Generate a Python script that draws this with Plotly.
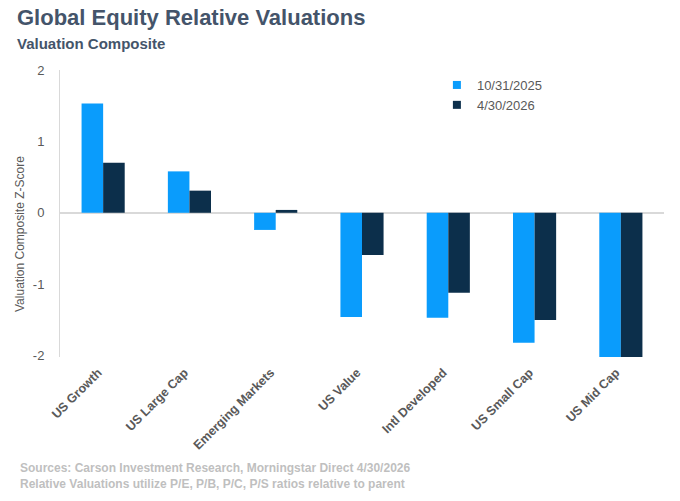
import plotly.graph_objects as go

categories = ["US Growth", "US Large Cap", "Emerging Markets", "US Value",
              "Intl Developed", "US Small Cap", "US Mid Cap"]
series_names = ["10/31/2025", "4/30/2026"]
values_oct2025 = [1.53, 0.58, -0.24, -1.46, -1.47, -1.82, -2.02]
values_apr2026 = [0.70, 0.31, 0.04, -0.59, -1.12, -1.50, -2.02]
y_ticks = [-2, -1, 0, 1, 2]
colors = ["#0A9CFC", "#0C2F4B"]

FONT = "Liberation Sans, Arial, sans-serif"
GRAY = "#595959"

fig = go.Figure()
for name, vals, c in zip(series_names, [values_oct2025, values_apr2026], colors):
    fig.add_trace(go.Bar(x=categories, y=vals, name=name, showlegend=False,
                         marker=dict(color=c, line=dict(width=0))))
# legend proxies with small square markers
for name, c in zip(series_names, colors):
    fig.add_trace(go.Scatter(x=[None], y=[None], mode="markers", name=name,
                             marker=dict(symbol="square", size=8, color=c)))

fig.update_layout(
    width=680, height=501,
    paper_bgcolor="white", plot_bgcolor="white",
    margin=dict(l=60, r=16, t=70, b=144),
    barmode="group", bargap=0.5, bargroupgap=0,
    font=dict(family=FONT, color=GRAY, size=13),
    showlegend=True,
    legend=dict(x=0.624, y=1.0, xanchor="left", yanchor="top",
                font=dict(size=13, color=GRAY), bgcolor="rgba(0,0,0,0)",
                itemwidth=30, tracegroupgap=2),
    xaxis=dict(tickangle=-45, tickfont=dict(size=12.5, color=GRAY, family=FONT, weight="bold"),
               showline=False, showgrid=False, ticks="",
               ticklabelstandoff=5, ticklabelshift=-5),
    yaxis=dict(range=[-2.02, 2.0], tickvals=y_ticks, ticktext=[str(v) for v in y_ticks],
               showgrid=False, zeroline=True, zerolinecolor="#D9D9D9", zerolinewidth=1.5,
               showline=True, linecolor="#D9D9D9", linewidth=1, ticks="",
               tickfont=dict(size=13, color=GRAY), ticklabelstandoff=12),
)

fig.add_annotation(text="Valuation Composite Z-Score", xref="paper", yref="paper",
                   x=-(60 - 20) / 604, y=(357 - 234) / 287, xanchor="center", yanchor="middle",
                   textangle=-90, showarrow=False, font=dict(size=12, color=GRAY, family=FONT))
fig.add_annotation(text="<b>Global Equity Relative Valuations</b>", xref="paper", yref="paper",
                   x=-0.075, y=1 + (70 - 18) / 287, xanchor="left", yanchor="middle",
                   showarrow=False, font=dict(size=22, color="#44546A", family=FONT))
fig.add_annotation(text="<b>Valuation Composite</b>", xref="paper", yref="paper",
                   x=-0.075, y=1 + (70 - 43) / 287, xanchor="left", yanchor="middle",
                   showarrow=False, font=dict(size=15, color="#44546A", family=FONT))
fig.add_annotation(text="<b>Sources: Carson Investment Research, Morningstar Direct 4/30/2026</b><br>"
                        "<b>Relative Valuations utilize P/E, P/B, P/C, P/S ratios relative to parent</b>",
                   xref="paper", yref="paper", x=-0.069, y=-(476 - 357) / 287,
                   xanchor="left", yanchor="middle", align="left", showarrow=False,
                   font=dict(size=12, color="#BFBFBF", family=FONT))

fig.write_html("out.html")
